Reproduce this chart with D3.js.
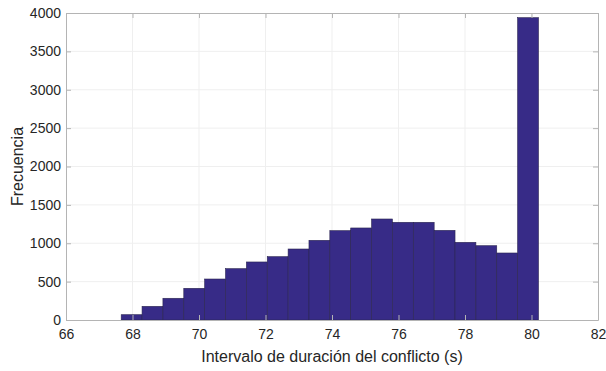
<!DOCTYPE html>
<meta charset="utf-8">
<style>
  body { margin: 0; background: #fff; }
  text { font-family: "Liberation Sans", Arial, sans-serif; fill: #262626; }
</style>
<body>
<script src="https://cdn.jsdelivr.net/npm/d3@7"></script>
<script>

// histogram bins (left edge in s) and counts
var binStart = 67.66,
    binWidth = 0.6275;
var counts = [69, 178, 283, 413, 534, 669, 756, 825, 925, 1038,
              1164, 1199, 1316, 1273, 1273, 1168, 1012, 968, 873, 3939];
var xTicks = [66, 68, 70, 72, 74, 76, 78, 80, 82];
var yTicks = [0, 500, 1000, 1500, 2000, 2500, 3000, 3500, 4000];

var bins = counts.map(function(c, i) {
  return {x0: binStart + i * binWidth, x1: binStart + (i + 1) * binWidth, n: c};
});

var width = 606, height = 371,
    margin = {top: 13, right: 8, bottom: 51, left: 66};

var svg = d3.select("body").append("svg")
    .attr("width", width)
    .attr("height", height);

var x = d3.scaleLinear().domain([66, 82]).range([margin.left, width - margin.right]);
var y = d3.scaleLinear().domain([0, 4000]).range([height - margin.bottom, margin.top]);

// grid
svg.append("g").selectAll("line.gx")
    .data(xTicks.slice(1, -1))
  .enter().append("line")
    .attr("x1", x).attr("x2", x)
    .attr("y1", y(0)).attr("y2", y(4000))
    .attr("stroke", "#efefef");
svg.append("g").selectAll("line.gy")
    .data(yTicks.slice(1, -1))
  .enter().append("line")
    .attr("x1", x(66)).attr("x2", x(82))
    .attr("y1", y).attr("y2", y)
    .attr("stroke", "#efefef");

// bars
svg.append("g").selectAll("rect")
    .data(bins)
  .enter().append("rect")
    .attr("x", function(d) { return x(d.x0); })
    .attr("width", function(d) { return x(d.x1) - x(d.x0); })
    .attr("y", function(d) { return y(d.n); })
    .attr("height", function(d) { return y(0) - y(d.n); })
    .attr("fill", "#372b87")
    .attr("stroke", "#2b2550")
    .attr("stroke-width", 0.6);

// axes, ticks inside like matlab
var fmt = d3.format("d");
var gx = svg.append("g").attr("transform", "translate(0," + y(0) + ")")
    .call(d3.axisBottom(x).tickValues(xTicks).tickFormat(fmt).tickSizeInner(-5).tickSizeOuter(0).tickPadding(9));
var gy = svg.append("g").attr("transform", "translate(" + x(66) + ",0)")
    .call(d3.axisLeft(y).tickValues(yTicks).tickFormat(fmt).tickSizeInner(-5).tickSizeOuter(0).tickPadding(5));
var gt = svg.append("g").attr("transform", "translate(0," + y(4000) + ")")
    .call(d3.axisTop(x).tickValues(xTicks).tickSizeInner(-5).tickSizeOuter(0).tickFormat(""));
var gr = svg.append("g").attr("transform", "translate(" + x(82) + ",0)")
    .call(d3.axisRight(y).tickValues(yTicks).tickSizeInner(-5).tickSizeOuter(0).tickFormat(""));

[gx, gy, gt, gr].forEach(function(g) {
  g.selectAll("path.domain").attr("stroke", "#b4b4b4");
  g.selectAll(".tick line").attr("stroke", "#b4b4b4");
  g.selectAll("text")
    .style("font-family", "'Liberation Sans', Arial, sans-serif")
    .style("font-size", "14px")
    .attr("fill", "#262626");
});

svg.append("text")
    .attr("x", (x(66) + x(82)) / 2)
    .attr("y", 362)
    .attr("text-anchor", "middle")
    .style("font-size", "16px")
    .text("Intervalo de duración del conflicto (s)");

svg.append("text")
    .attr("transform", "translate(23," + (y(2000)) + ") rotate(-90)")
    .attr("text-anchor", "middle")
    .style("font-size", "16px")
    .text("Frecuencia");

</script>
